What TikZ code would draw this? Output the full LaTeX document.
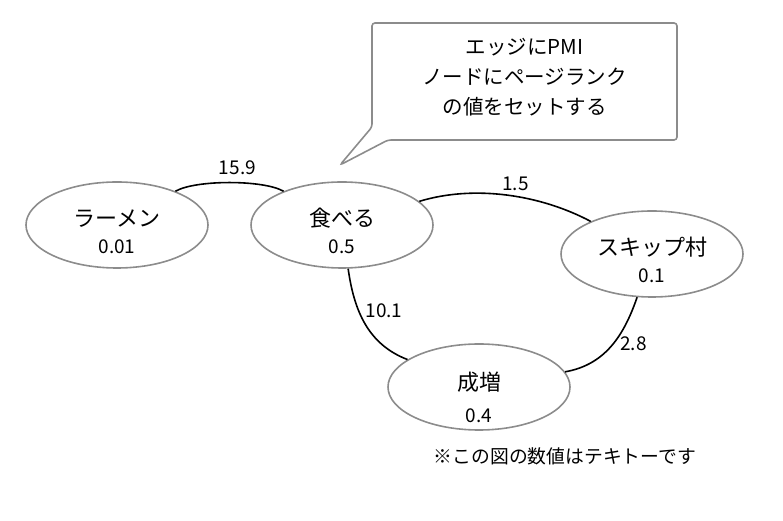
\documentclass[tikz,border=0pt]{standalone}
\usepackage{fontspec}
\setmainfont{Noto Sans CJK JP}
\usetikzlibrary{shapes,positioning,calc}
\newcommand{\twoline}[3][29pt]{\raisebox{-#1}[0pt][0pt]{\begin{tabular}[b]{@{}c@{}}#2\\{\fontsize{19}{27}\selectfont #3}\end{tabular}}}

\begin{document}
\begin{tikzpicture}[x=1pt, y=1pt,
    word/.style={ellipse, draw=black!45, line width=1.6pt, minimum width=182pt, minimum height=86pt, inner sep=0pt, font=\fontsize{22}{27}\selectfont},
    pmi/.style={line width=1.6pt},
    num/.style={font=\fontsize{19}{23}\selectfont}]
    \useasboundingbox (0,0) rectangle (783,521);

    \node[word] (ramen) at (117,296) {\twoline{ラーメン}{0.01}};
    \node[word] (taberu) at (342,296) {\twoline{食べる}{0.5}};
    \node[word] (skip) at (652,267) {\twoline{スキップ村}{0.1}};
    \node[word] (narimasu) at (479,134) {\twoline[36pt]{成増}{\rule{0pt}{24pt}0.4}};

    \draw[pmi] (ramen) to[out=30, in=150, looseness=0.55] node[pos=0.56, above=4pt, num] {15.9} (taberu);
    \draw[pmi] (taberu) to[out=17, in=152, looseness=0.85] node[pos=0.55, above=1pt, num] {1.5} (skip);
    \draw[pmi] (taberu) to[out=-82, in=159] node[pos=0.36, right=3pt, num] {10.1} (narimasu);
    \draw[pmi] (skip) to[out=-109, in=10] node[pos=0.47, right=3pt, num] {2.8} (narimasu);

    % callout
    \node[align=center, font=\fontsize{20.5}{30}\selectfont] (memo) at (524.5,444) {エッジにPMI\\ノードにページランク\\の値をセットする};
    \coordinate (tip) at (340,356);
    \draw[draw=black!45, line width=1.6pt, rounded corners=3pt] (388,381) -- (677,381) -- (677,498) -- (372,498) -- (372,394) -- (tip) -- cycle;

    \node[font=\fontsize{18.8}{22}\selectfont] (note) at (565,65) {※この図の数値はテキトーです};
\end{tikzpicture}
\end{document}
